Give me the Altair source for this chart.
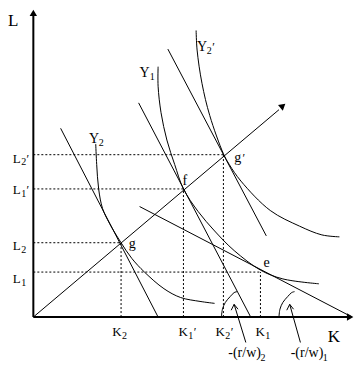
import altair as alt
import pandas as pd

# ---- values (K = capital, L = labour; origin at the axes corner) ----
# isoquants
y2_K = [64, 65, 67, 71, 78, 90, 101, 114, 134, 151, 171, 186]
y2_L = [177, 156, 131, 111, 96, 76, 60, 46, 29, 20, 16, 14]
y1_K = [128, 128, 131, 137, 145, 154, 169, 186, 206, 233, 256, 293]
y1_L = [256, 236, 209, 181, 156, 131, 108, 88, 68, 48, 39, 34]
y2p_K = [167, 168, 173, 181, 195, 201, 213, 243, 273, 296, 314]
y2p_L = [293, 273, 239, 206, 167, 156, 139, 109, 93, 84, 82]

# angle arcs for the price ratios
arc1_K = [193, 194, 197, 202, 206, 209]
arc1_L = [0, 8, 15, 21, 25, 26]
arc2_K = [252, 253, 256, 261, 265, 268]
arc2_L = [0, 8, 15, 21, 25, 26]

# isocost lines and expansion path (end points)
line_g_K, line_g_L = [28, 128], [193, 0]
line_f_K, line_f_L = [108, 223], [219, 0]
line_gp_K, line_gp_L = [138, 239], [274, 83]
line_e_K, line_e_L = [109, 327], [113, 0]
ray_K, ray_L = [0, 252], [0, 212]

# annotation arrows: shaft and head
arrow1_K, arrow1_L = [218, 206], [-26, 13]
head1_K, head1_L = [203, 206, 210], [7, 13, 8]
arrow2_K, arrow2_L = [274, 263], [-26, 13]
head2_K, head2_L = [260, 263, 267], [7, 13, 8]

# axes
xaxis_K, xaxis_L = [0, 322], [0, 0]
yaxis_K, yaxis_L = [0, 0], [0, 308]

# tangency points g, f, g', e
pt_K = [90, 154, 195, 233]
pt_L = [76, 131, 166, 46]

# arrow tips (x axis, y axis, expansion path)
tip_K = [325, 0, 256]
tip_L = [0, 311, 216]
tip_angle = [90, 0, 50]

# labels
main_txt = ["L", "K", "L", "L", "L", "L", "K", "K", "K", "K", "g", "f", "g", "e", "Y", "Y", "Y"]
main_K = [-26, 302, -21, -21, -21, -21, 81, 149, 187, 228, 98, 153, 206, 236, 109, 57, 168]
main_L = [298, -25, 158, 126, 69, 35, -19, -19, -19, -19, 71, 135, 159, 51, 245, 178, 272]
main_size = [17, 17, 13, 13, 13, 13, 13, 13, 13, 13, 14, 14, 14, 14, 14, 14, 14]

sub_txt = ["2", "1", "2", "1", "2", "1", "2", "1", "2", "1", "1", "2", "2"]
sub_K = [-12.5, -12.5, -12.5, -12.5, 91, 159, 197, 238, 233, 297, 119.5, 67, 178]
sub_L = [155, 123, 66, 32, -22, -22, -22, -22, -45, -45, 242, 175, 269]

prime_K = [-7, -7, 164.5, 202.5, 214.5, 183.5]
prime_L = [158, 126, -19, -19, 159, 272]

ratio_txt = ["-(r/w)", "-(r/w)"]
ratio_K = [200, 264]
ratio_L = [-41, -41]


def poly(name, ks, ls):
    return pd.DataFrame({"id": name, "o": range(len(ks)), "K": ks, "L": ls})


curves = pd.concat([
    poly("Y2", y2_K, y2_L), poly("Y1", y1_K, y1_L), poly("Y2p", y2p_K, y2p_L),
    poly("arc1", arc1_K, arc1_L), poly("arc2", arc2_K, arc2_L),
])
straight = pd.concat([
    poly("lg", line_g_K, line_g_L), poly("lf", line_f_K, line_f_L),
    poly("lgp", line_gp_K, line_gp_L), poly("le", line_e_K, line_e_L),
    poly("ray", ray_K, ray_L),
    poly("a1", arrow1_K, arrow1_L), poly("h1", head1_K, head1_L),
    poly("a2", arrow2_K, arrow2_L), poly("h2", head2_K, head2_L),
])
axes = pd.concat([poly("x", xaxis_K, xaxis_L), poly("y", yaxis_K, yaxis_L)])

dot_parts = []
for i, (k, l) in enumerate(zip(pt_K, pt_L)):
    dot_parts.append(poly(f"h{i}", [0, k], [l, l]))
    dot_parts.append(poly(f"v{i}", [k, k], [0, l]))
dotted = pd.concat(dot_parts)

tips = pd.DataFrame({"K": tip_K, "L": tip_L, "a": tip_angle})
mains = pd.DataFrame({"t": main_txt, "K": main_K, "L": main_L, "s": main_size})
subs = pd.DataFrame({"t": sub_txt, "K": sub_K, "L": sub_L})
primes = pd.DataFrame({"t": "′", "K": prime_K, "L": prime_L})
ratios = pd.DataFrame({"t": ratio_txt, "K": ratio_K, "L": ratio_L})

X = alt.X("K:Q", scale=alt.Scale(domain=[-26, 330], nice=False, zero=False), axis=None)
Y = alt.Y("L:Q", scale=alt.Scale(domain=[-48, 316], nice=False, zero=False), axis=None)
FONT = "Liberation Serif"

ax_layer = alt.Chart(axes).mark_line(color="black", strokeWidth=2).encode(
    x=X, y=Y, detail="id:N", order="o:Q")
straight_layer = alt.Chart(straight).mark_line(color="black", strokeWidth=1).encode(
    x=X, y=Y, detail="id:N", order="o:Q")
curve_layer = alt.Chart(curves).mark_line(color="black", strokeWidth=1, interpolate="catmull-rom").encode(
    x=X, y=Y, detail="id:N", order="o:Q")
dot_layer = alt.Chart(dotted).mark_line(color="black", strokeWidth=1, strokeDash=[2, 2]).encode(
    x=X, y=Y, detail="id:N", order="o:Q")
tip_layer = alt.Chart(tips).mark_point(shape="triangle-up", filled=True, color="black", size=55, opacity=1).encode(
    x=X, y=Y, angle=alt.Angle("a:Q", scale=None))
main_layer = alt.Chart(mains).mark_text(font=FONT, align="left", baseline="alphabetic", color="black").encode(
    x=X, y=Y, text="t:N", size=alt.Size("s:Q", scale=None))
sub_layer = alt.Chart(subs).mark_text(font=FONT, fontSize=10, align="left", baseline="alphabetic", color="black").encode(
    x=X, y=Y, text="t:N")
prime_layer = alt.Chart(primes).mark_text(font=FONT, fontSize=12, align="left", baseline="alphabetic", color="black").encode(
    x=X, y=Y, text="t:N")
ratio_layer = alt.Chart(ratios).mark_text(font=FONT, fontSize=14, align="left", baseline="alphabetic", color="black").encode(
    x=X, y=Y, text="t:N")

chart = alt.layer(
    dot_layer, straight_layer, curve_layer, ax_layer, tip_layer,
    main_layer, sub_layer, prime_layer, ratio_layer,
).properties(
    width=347, height=356, padding=0,
    autosize=alt.AutoSizeParams(type="none"),
).configure_view(strokeWidth=0)

chart.save("out.html", embed_options={"renderer": "svg", "actions": False})
